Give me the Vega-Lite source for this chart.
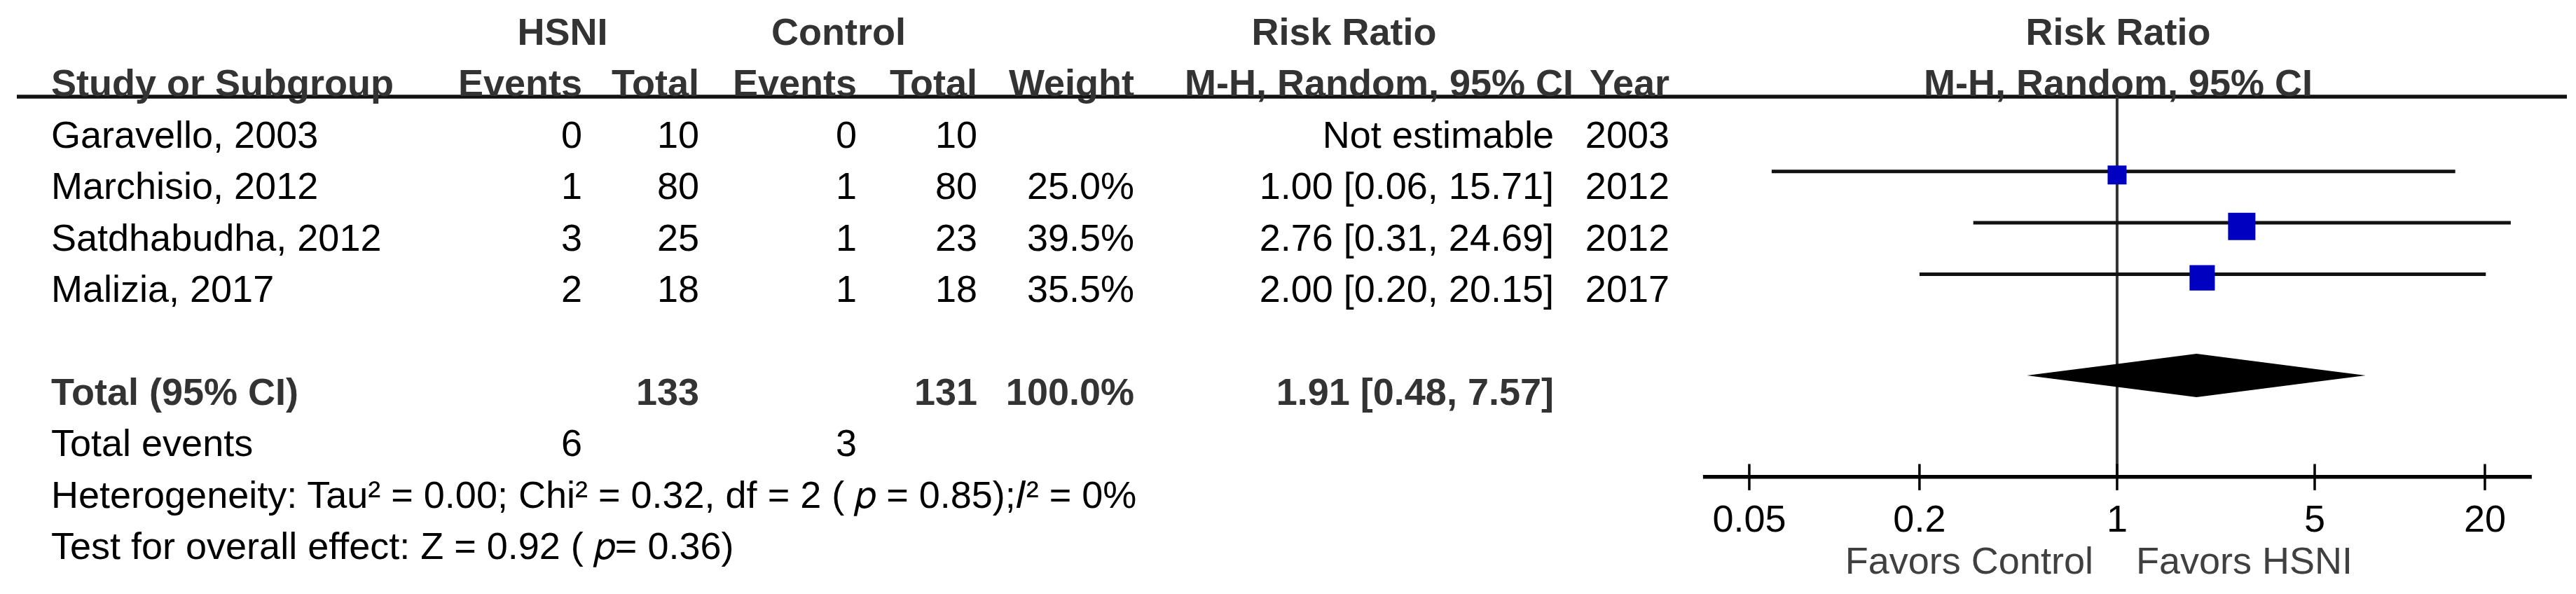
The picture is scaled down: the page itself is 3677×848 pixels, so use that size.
{
  "$schema": "https://vega.github.io/schema/vega-lite/v6.json",
  "background": "white",
  "padding": {"left": 21, "top": 0, "right": 0, "bottom": 0},
  "spacing": 0,
  "bounds": "flush",
  "config": {
    "view": {"stroke": null},
    "axis": {"disable": true},
    "text": {"font": "Liberation Sans", "fontSize": 54, "baseline": "middle"}
  },
  "datasets": {
    "cells": [
      {"row": "h2", "col": "study", "text": "Study or Subgroup"},
      {"row": "g", "col": "study", "text": "Garavello, 2003"},
      {"row": "m", "col": "study", "text": "Marchisio, 2012"},
      {"row": "s", "col": "study", "text": "Satdhabudha, 2012"},
      {"row": "ma", "col": "study", "text": "Malizia, 2017"},
      {"row": "total", "col": "study", "text": "Total (95% CI)"},
      {"row": "te", "col": "study", "text": "Total events"},
      {"row": "het", "col": "study", "text": "Heterogeneity: Tau² = 0.00; Chi² = 0.32, df = 2 ( 𝑝 = 0.85);𝐼² = 0%"},
      {"row": "test", "col": "study", "text": "Test for overall effect: Z = 0.92 ( 𝑝= 0.36)"},
      {"row": "h1", "col": "he", "text": "HSNI"},
      {"row": "h2", "col": "he", "text": "Events"},
      {"row": "g", "col": "he", "text": "0"},
      {"row": "m", "col": "he", "text": "1"},
      {"row": "s", "col": "he", "text": "3"},
      {"row": "ma", "col": "he", "text": "2"},
      {"row": "te", "col": "he", "text": "6"},
      {"row": "h2", "col": "ht", "text": "Total"},
      {"row": "g", "col": "ht", "text": "10"},
      {"row": "m", "col": "ht", "text": "80"},
      {"row": "s", "col": "ht", "text": "25"},
      {"row": "ma", "col": "ht", "text": "18"},
      {"row": "total", "col": "ht", "text": "133"},
      {"row": "h1", "col": "ce", "text": "Control"},
      {"row": "h2", "col": "ce", "text": "Events"},
      {"row": "g", "col": "ce", "text": "0"},
      {"row": "m", "col": "ce", "text": "1"},
      {"row": "s", "col": "ce", "text": "1"},
      {"row": "ma", "col": "ce", "text": "1"},
      {"row": "te", "col": "ce", "text": "3"},
      {"row": "h2", "col": "ct", "text": "Total"},
      {"row": "g", "col": "ct", "text": "10"},
      {"row": "m", "col": "ct", "text": "80"},
      {"row": "s", "col": "ct", "text": "23"},
      {"row": "ma", "col": "ct", "text": "18"},
      {"row": "total", "col": "ct", "text": "131"},
      {"row": "h2", "col": "w", "text": "Weight"},
      {"row": "m", "col": "w", "text": "25.0%"},
      {"row": "s", "col": "w", "text": "39.5%"},
      {"row": "ma", "col": "w", "text": "35.5%"},
      {"row": "total", "col": "w", "text": "100.0%"},
      {"row": "h1", "col": "rr", "text": "Risk Ratio"},
      {"row": "g", "col": "rr", "text": "Not estimable"},
      {"row": "m", "col": "rr", "text": "1.00 [0.06, 15.71]"},
      {"row": "s", "col": "rr", "text": "2.76 [0.31, 24.69]"},
      {"row": "ma", "col": "rr", "text": "2.00 [0.20, 20.15]"},
      {"row": "total", "col": "rr", "text": "1.91 [0.48, 7.57]"},
      {"row": "h2", "col": "mh", "text": "M-H, Random, 95% CI"},
      {"row": "h2", "col": "yr", "text": "Year"},
      {"row": "g", "col": "yr", "text": "2003"},
      {"row": "m", "col": "yr", "text": "2012"},
      {"row": "s", "col": "yr", "text": "2012"},
      {"row": "ma", "col": "yr", "text": "2017"},
      {"row": "h1", "col": "fp", "text": "Risk Ratio"},
      {"row": "h2", "col": "fp", "text": "M-H, Random, 95% CI"}
    ],
    "studies": [
      {"row": "m", "study": "Marchisio, 2012", "rr": 1.00, "lo": 0.06, "hi": 15.71, "weight": 25.0},
      {"row": "s", "study": "Satdhabudha, 2012", "rr": 2.76, "lo": 0.31, "hi": 24.69, "weight": 39.5},
      {"row": "ma", "study": "Malizia, 2017", "rr": 2.00, "lo": 0.20, "hi": 20.15, "weight": 35.5}
    ],
    "diamond": [
      {"pt": "top", "lo": 1.91, "hi": 1.91},
      {"pt": "mid", "lo": 0.48, "hi": 7.57},
      {"pt": "bottom", "lo": 1.91, "hi": 1.91}
    ],
    "ticks": [{"v": 0.05}, {"v": 0.2}, {"v": 1}, {"v": 5}, {"v": 20}]
  },
  "hconcat": [
    {
      "width": 49, "height": 830,
      "data": {"values": [{}]},
      "mark": {"type": "rule", "color": "#111111", "strokeWidth": 5.5},
      "encoding": {"y": {"datum": "h2", "type": "nominal", "bandPosition": 0.727, "axis": null, "scale": {"type": "band", "domain": ["h1","h2","g","m","s","ma","gap","total","te","het","test"], "paddingInner": 0, "paddingOuter": 0.1526}}}
    },
    {
      "width": 702, "height": 830,
      "layer": [
        {"data": {"values": [{}]}, "mark": {"type": "rule", "color": "#111111", "strokeWidth": 5.5},
         "encoding": {"y": {"datum": "h2", "type": "nominal", "bandPosition": 0.727, "axis": null, "scale": {"type": "band", "domain": ["h1","h2","g","m","s","ma","gap","total","te","het","test"], "paddingInner": 0, "paddingOuter": 0.1526}}}},
        {"data": {"name": "cells"}, "transform": [{"filter": "datum.col === 'study'"}],
         "mark": {"type": "text", "align": "left", "fontWeight": {"expr": "datum.row === 'h1' || datum.row === 'h2' || datum.row === 'total' ? 'bold' : 'normal'"}},
         "encoding": {"x": {"value": 0}, "y": {"field": "row", "type": "nominal", "axis": null, "scale": {"type": "band", "domain": ["h1","h2","g","m","s","ma","gap","total","te","het","test"], "paddingInner": 0, "paddingOuter": 0.1526}},
           "text": {"field": "text", "type": "nominal"},
           "color": {"condition": {"test": "datum.row === 'h1' || datum.row === 'h2' || datum.row === 'total'", "value": "#333333"}, "value": "#000000"}}}
      ]
    },
    {
      "width": 56, "height": 830,
      "layer": [
        {"data": {"values": [{}]}, "mark": {"type": "rule", "color": "#111111", "strokeWidth": 5.5},
         "encoding": {"y": {"datum": "h2", "type": "nominal", "bandPosition": 0.727, "axis": null, "scale": {"type": "band", "domain": ["h1","h2","g","m","s","ma","gap","total","te","het","test"], "paddingInner": 0, "paddingOuter": 0.1526}}}},
        {"data": {"name": "cells"}, "transform": [{"filter": "datum.col === 'he' && datum.row !== 'h1'"}],
         "mark": {"type": "text", "align": "right", "fontWeight": {"expr": "datum.row === 'h1' || datum.row === 'h2' || datum.row === 'total' ? 'bold' : 'normal'"}},
         "encoding": {"x": {"value": "width"}, "y": {"field": "row", "type": "nominal", "axis": null, "scale": {"type": "band", "domain": ["h1","h2","g","m","s","ma","gap","total","te","het","test"], "paddingInner": 0, "paddingOuter": 0.1526}},
           "text": {"field": "text", "type": "nominal"},
           "color": {"condition": {"test": "datum.row === 'h1' || datum.row === 'h2' || datum.row === 'total'", "value": "#333333"}, "value": "#000000"}}},
        {"data": {"name": "cells"}, "transform": [{"filter": "datum.col === 'he' && datum.row === 'h1'"}],
         "mark": {"type": "text", "align": "center", "fontWeight": "bold", "color": "#333333"},
         "encoding": {"y": {"field": "row", "type": "nominal", "axis": null}, "text": {"field": "text", "type": "nominal"}}}
      ]
    },
    {
      "width": 167, "height": 830,
      "layer": [
        {"data": {"values": [{}]}, "mark": {"type": "rule", "color": "#111111", "strokeWidth": 5.5},
         "encoding": {"y": {"datum": "h2", "type": "nominal", "bandPosition": 0.727, "axis": null, "scale": {"type": "band", "domain": ["h1","h2","g","m","s","ma","gap","total","te","het","test"], "paddingInner": 0, "paddingOuter": 0.1526}}}},
        {"data": {"name": "cells"}, "transform": [{"filter": "datum.col === 'ht'"}],
         "mark": {"type": "text", "align": "right", "fontWeight": {"expr": "datum.row === 'h1' || datum.row === 'h2' || datum.row === 'total' ? 'bold' : 'normal'"}},
         "encoding": {"x": {"value": "width"}, "y": {"field": "row", "type": "nominal", "axis": null, "scale": {"type": "band", "domain": ["h1","h2","g","m","s","ma","gap","total","te","het","test"], "paddingInner": 0, "paddingOuter": 0.1526}},
           "text": {"field": "text", "type": "nominal"},
           "color": {"condition": {"test": "datum.row === 'h1' || datum.row === 'h2' || datum.row === 'total'", "value": "#333333"}, "value": "#000000"}}}
      ]
    },
    {
      "width": 173, "height": 830,
      "data": {"values": [{}]},
      "mark": {"type": "rule", "color": "#111111", "strokeWidth": 5.5},
      "encoding": {"y": {"datum": "h2", "type": "nominal", "bandPosition": 0.727, "axis": null, "scale": {"type": "band", "domain": ["h1","h2","g","m","s","ma","gap","total","te","het","test"], "paddingInner": 0, "paddingOuter": 0.1526}}}
    },
    {
      "width": 52, "height": 830,
      "layer": [
        {"data": {"values": [{}]}, "mark": {"type": "rule", "color": "#111111", "strokeWidth": 5.5},
         "encoding": {"y": {"datum": "h2", "type": "nominal", "bandPosition": 0.727, "axis": null, "scale": {"type": "band", "domain": ["h1","h2","g","m","s","ma","gap","total","te","het","test"], "paddingInner": 0, "paddingOuter": 0.1526}}}},
        {"data": {"name": "cells"}, "transform": [{"filter": "datum.col === 'ce' && datum.row !== 'h1'"}],
         "mark": {"type": "text", "align": "right", "fontWeight": {"expr": "datum.row === 'h1' || datum.row === 'h2' || datum.row === 'total' ? 'bold' : 'normal'"}},
         "encoding": {"x": {"value": "width"}, "y": {"field": "row", "type": "nominal", "axis": null, "scale": {"type": "band", "domain": ["h1","h2","g","m","s","ma","gap","total","te","het","test"], "paddingInner": 0, "paddingOuter": 0.1526}},
           "text": {"field": "text", "type": "nominal"},
           "color": {"condition": {"test": "datum.row === 'h1' || datum.row === 'h2' || datum.row === 'total'", "value": "#333333"}, "value": "#000000"}}},
        {"data": {"name": "cells"}, "transform": [{"filter": "datum.col === 'ce' && datum.row === 'h1'"}],
         "mark": {"type": "text", "align": "center", "fontWeight": "bold", "color": "#333333"},
         "encoding": {"y": {"field": "row", "type": "nominal", "axis": null}, "text": {"field": "text", "type": "nominal"}}}
      ]
    },
    {
      "width": 172, "height": 830,
      "layer": [
        {"data": {"values": [{}]}, "mark": {"type": "rule", "color": "#111111", "strokeWidth": 5.5},
         "encoding": {"y": {"datum": "h2", "type": "nominal", "bandPosition": 0.727, "axis": null, "scale": {"type": "band", "domain": ["h1","h2","g","m","s","ma","gap","total","te","het","test"], "paddingInner": 0, "paddingOuter": 0.1526}}}},
        {"data": {"name": "cells"}, "transform": [{"filter": "datum.col === 'ct'"}],
         "mark": {"type": "text", "align": "right", "fontWeight": {"expr": "datum.row === 'h1' || datum.row === 'h2' || datum.row === 'total' ? 'bold' : 'normal'"}},
         "encoding": {"x": {"value": "width"}, "y": {"field": "row", "type": "nominal", "axis": null, "scale": {"type": "band", "domain": ["h1","h2","g","m","s","ma","gap","total","te","het","test"], "paddingInner": 0, "paddingOuter": 0.1526}},
           "text": {"field": "text", "type": "nominal"},
           "color": {"condition": {"test": "datum.row === 'h1' || datum.row === 'h2' || datum.row === 'total'", "value": "#333333"}, "value": "#000000"}}}
      ]
    },
    {
      "width": 224, "height": 830,
      "layer": [
        {"data": {"values": [{}]}, "mark": {"type": "rule", "color": "#111111", "strokeWidth": 5.5},
         "encoding": {"y": {"datum": "h2", "type": "nominal", "bandPosition": 0.727, "axis": null, "scale": {"type": "band", "domain": ["h1","h2","g","m","s","ma","gap","total","te","het","test"], "paddingInner": 0, "paddingOuter": 0.1526}}}},
        {"data": {"name": "cells"}, "transform": [{"filter": "datum.col === 'w'"}],
         "mark": {"type": "text", "align": "right", "fontWeight": {"expr": "datum.row === 'h1' || datum.row === 'h2' || datum.row === 'total' ? 'bold' : 'normal'"}},
         "encoding": {"x": {"value": "width"}, "y": {"field": "row", "type": "nominal", "axis": null, "scale": {"type": "band", "domain": ["h1","h2","g","m","s","ma","gap","total","te","het","test"], "paddingInner": 0, "paddingOuter": 0.1526}},
           "text": {"field": "text", "type": "nominal"},
           "color": {"condition": {"test": "datum.row === 'h1' || datum.row === 'h2' || datum.row === 'total'", "value": "#333333"}, "value": "#000000"}}}
      ]
    },
    {
      "width": 599, "height": 830,
      "layer": [
        {"data": {"values": [{}]}, "mark": {"type": "rule", "color": "#111111", "strokeWidth": 5.5},
         "encoding": {"y": {"datum": "h2", "type": "nominal", "bandPosition": 0.727, "axis": null, "scale": {"type": "band", "domain": ["h1","h2","g","m","s","ma","gap","total","te","het","test"], "paddingInner": 0, "paddingOuter": 0.1526}}}},
        {"data": {"name": "cells"}, "transform": [{"filter": "datum.col === 'rr' && datum.row !== 'h1'"}],
         "mark": {"type": "text", "align": "right", "fontWeight": {"expr": "datum.row === 'h1' || datum.row === 'h2' || datum.row === 'total' ? 'bold' : 'normal'"}},
         "encoding": {"x": {"value": "width"}, "y": {"field": "row", "type": "nominal", "axis": null, "scale": {"type": "band", "domain": ["h1","h2","g","m","s","ma","gap","total","te","het","test"], "paddingInner": 0, "paddingOuter": 0.1526}},
           "text": {"field": "text", "type": "nominal"},
           "color": {"condition": {"test": "datum.row === 'h1' || datum.row === 'h2' || datum.row === 'total'", "value": "#333333"}, "value": "#000000"}}},
        {"data": {"name": "cells"}, "transform": [{"filter": "datum.col === 'rr' && datum.row === 'h1'"}],
         "mark": {"type": "text", "align": "center", "fontWeight": "bold", "color": "#333333"},
         "encoding": {"y": {"field": "row", "type": "nominal", "axis": null}, "text": {"field": "text", "type": "nominal"}}}
      ]
    },
    {
      "width": 28, "height": 830,
      "layer": [
        {"data": {"values": [{}]}, "mark": {"type": "rule", "color": "#111111", "strokeWidth": 5.5},
         "encoding": {"y": {"datum": "h2", "type": "nominal", "bandPosition": 0.727, "axis": null, "scale": {"type": "band", "domain": ["h1","h2","g","m","s","ma","gap","total","te","het","test"], "paddingInner": 0, "paddingOuter": 0.1526}}}},
        {"data": {"name": "cells"}, "transform": [{"filter": "datum.col === 'mh'"}],
         "mark": {"type": "text", "align": "right", "fontWeight": "bold", "color": "#333333"},
         "encoding": {"x": {"value": "width"}, "y": {"field": "row", "type": "nominal", "axis": null, "scale": {"type": "band", "domain": ["h1","h2","g","m","s","ma","gap","total","te","het","test"], "paddingInner": 0, "paddingOuter": 0.1526}},
           "text": {"field": "text", "type": "nominal"}}}
      ]
    },
    {
      "width": 137, "height": 830,
      "layer": [
        {"data": {"values": [{}]}, "mark": {"type": "rule", "color": "#111111", "strokeWidth": 5.5},
         "encoding": {"y": {"datum": "h2", "type": "nominal", "bandPosition": 0.727, "axis": null, "scale": {"type": "band", "domain": ["h1","h2","g","m","s","ma","gap","total","te","het","test"], "paddingInner": 0, "paddingOuter": 0.1526}}}},
        {"data": {"name": "cells"}, "transform": [{"filter": "datum.col === 'yr'"}],
         "mark": {"type": "text", "align": "right", "fontWeight": {"expr": "datum.row === 'h1' || datum.row === 'h2' || datum.row === 'total' ? 'bold' : 'normal'"}},
         "encoding": {"x": {"value": "width"}, "y": {"field": "row", "type": "nominal", "axis": null, "scale": {"type": "band", "domain": ["h1","h2","g","m","s","ma","gap","total","te","het","test"], "paddingInner": 0, "paddingOuter": 0.1526}},
           "text": {"field": "text", "type": "nominal"},
           "color": {"condition": {"test": "datum.row === 'h1' || datum.row === 'h2' || datum.row === 'total'", "value": "#333333"}, "value": "#000000"}}}
      ]
    },
    {
      "width": 1281, "height": 830,
      "layer": [
        {
          "layer": [
            {"data": {"values": [{}]}, "mark": {"type": "rule", "color": "#111111", "strokeWidth": 5.5},
             "encoding": {"y": {"datum": "h2", "type": "nominal", "bandPosition": 0.727, "axis": null, "scale": {"type": "band", "domain": ["h1","h2","g","m","s","ma","gap","total","te","het","test"], "paddingInner": 0, "paddingOuter": 0.1526}}}},
            {"data": {"name": "cells"}, "transform": [{"filter": "datum.col === 'fp'"}],
             "mark": {"type": "text", "align": "center", "fontWeight": "bold", "color": "#333333"},
             "encoding": {"y": {"field": "row", "type": "nominal", "axis": null, "scale": {"type": "band", "domain": ["h1","h2","g","m","s","ma","gap","total","te","het","test"], "paddingInner": 0, "paddingOuter": 0.1526}},
               "text": {"field": "text", "type": "nominal"}}},
            {"data": {"values": [{}]}, "mark": {"type": "rule", "color": "#333333", "strokeWidth": 4},
             "encoding": {"x": {"datum": 1, "type": "quantitative", "axis": null, "scale": {"type": "log", "domain": [0.0261, 39.0], "nice": false}},
               "y": {"datum": "h2", "type": "nominal", "bandPosition": 0.727, "axis": null},
               "y2": {"datum": "het", "bandPosition": 0.117}}},
            {"data": {"name": "studies"}, "mark": {"type": "rule", "color": "#111111", "strokeWidth": 5},
             "encoding": {"x": {"field": "lo", "type": "quantitative", "axis": null, "scale": {"type": "log", "domain": [0.0261, 39.0], "nice": false}},
               "x2": {"field": "hi"},
               "y": {"field": "row", "type": "nominal", "bandPosition": 0.18, "axis": null}}},
            {"data": {"name": "studies"}, "mark": {"type": "point", "shape": "square", "filled": true, "color": "#0000c0", "opacity": 1, "strokeWidth": 0},
             "encoding": {"x": {"field": "rr", "type": "quantitative", "axis": null},
               "y": {"field": "row", "type": "nominal", "bandPosition": 0.25, "axis": null},
               "size": {"field": "weight", "type": "quantitative", "legend": null, "scale": {"domain": [25, 39.5], "range": [729, 1521], "zero": false}}}},
            {"data": {"values": [{}]}, "mark": {"type": "rule", "color": "#000000", "strokeWidth": 5.5},
             "encoding": {"x": {"datum": 0.0343, "type": "quantitative", "axis": null}, "x2": {"datum": 29.3},
               "y": {"datum": "het", "type": "nominal", "bandPosition": 0.12, "axis": null}}},
            {"data": {"name": "ticks"}, "mark": {"type": "rule", "color": "#000000", "strokeWidth": 3.5},
             "encoding": {"x": {"field": "v", "type": "quantitative", "axis": null},
               "y": {"datum": "te", "type": "nominal", "bandPosition": 0.87, "axis": null},
               "y2": {"datum": "het", "bandPosition": 0.38}}},
            {"data": {"name": "ticks"}, "mark": {"type": "text", "align": "center", "color": "#000000"},
             "encoding": {"x": {"field": "v", "type": "quantitative", "axis": null},
               "y": {"datum": "het", "type": "nominal", "bandPosition": 0.962, "axis": null},
               "text": {"field": "v", "type": "nominal"}}},
            {"data": {"values": [{}]}, "mark": {"type": "text", "align": "right", "dx": -34, "color": "#404040"},
             "encoding": {"x": {"datum": 1, "type": "quantitative", "axis": null},
               "y": {"datum": "test", "type": "nominal", "bandPosition": 0.78, "axis": null},
               "text": {"value": "Favors Control"}}},
            {"data": {"values": [{}]}, "mark": {"type": "text", "align": "left", "dx": 27, "color": "#404040"},
             "encoding": {"x": {"datum": 1, "type": "quantitative", "axis": null},
               "y": {"datum": "test", "type": "nominal", "bandPosition": 0.78, "axis": null},
               "text": {"value": "Favors HSNI"}}}
          ]
        },
        {"data": {"name": "diamond"}, "mark": {"type": "area", "color": "#000000", "opacity": 1},
         "encoding": {"y": {"field": "pt", "type": "ordinal", "axis": null, "scale": {"type": "point", "domain": ["d0","d1","d2","d3","d4","d5","d6","d7","d8","d9","d10","d11","d12","d13","d14","d15","top","mid","bottom","d19","d20","d21","d22","d23","d24","d25"], "padding": 0.887, "align": 0.164}},
           "x": {"field": "lo", "type": "quantitative", "axis": null, "scale": {"type": "log", "domain": [0.0261, 39.0], "nice": false}},
           "x2": {"field": "hi"}}}
      ],
      "resolve": {"scale": {"y": "independent"}}
    }
  ]
}
